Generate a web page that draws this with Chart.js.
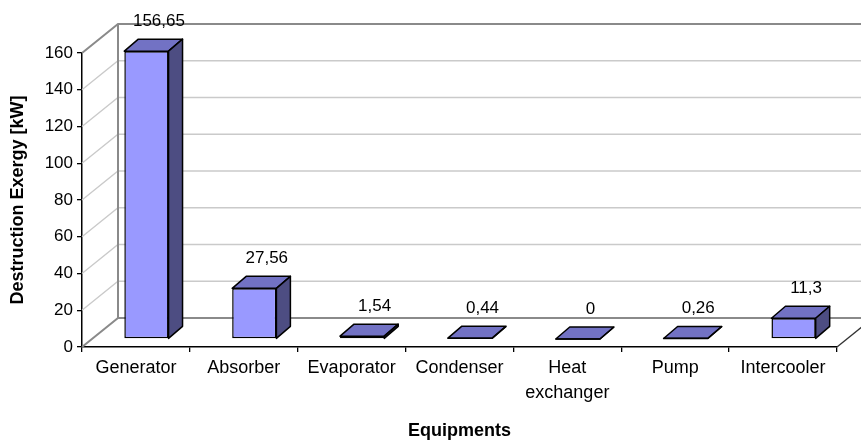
<!DOCTYPE html>
<html>
<head>
<meta charset="utf-8">
<script src="https://cdn.jsdelivr.net/npm/chart.js@4/dist/chart.umd.min.js"></script>
<style>
  html, body { margin: 0; padding: 0; background: #fff; }
  #wrap { width: 861px; height: 440px; position: relative; }
</style>
</head>
<body>
<div id="wrap"><canvas id="chart"></canvas></div>
<script>
// Equipment categories (multi-line label as array)
const categories = ['Generator', 'Absorber', 'Evaporator', 'Condenser', ['Heat', 'exchanger'], 'Pump', 'Intercooler'];
// Exergy destruction per component, kW
const destructionExergy = [156.65, 27.56, 1.54, 0.44, 0, 0.26, 11.3];
// Value axis ticks
const yTicks = [0, 20, 40, 60, 80, 100, 120, 140, 160];

// Oblique 3D projection parameters
const WALL = { dx: 36, dy: -29 };      // front plane -> back wall
const BAR_SHIFT = { dx: 10.5, dy: -8 }; // front plane -> bar front faces
const BAR_DEPTH = { dx: 14, dy: -12 };  // bar front face -> bar back face

const FRONT_COLOR = '#9999FF';
const TOP_COLOR = '#7272C4';
const SIDE_COLOR = '#4D4D82';

function fmt(v) { return String(v).replace('.', ','); }

function poly(ctx, pts, fill) {
  ctx.beginPath();
  ctx.moveTo(pts[0][0], pts[0][1]);
  for (let i = 1; i < pts.length; i++) ctx.lineTo(pts[i][0], pts[i][1]);
  ctx.closePath();
  ctx.fillStyle = fill;
  ctx.fill();
  ctx.stroke();
}

const box3d = {
  id: 'box3d',
  beforeDatasetsDraw(chart) {
    const { ctx, chartArea: a, scales: { y } } = chart;
    ctx.save();
    ctx.lineCap = 'butt';
    // Side wall diagonals and back wall gridlines
    y.ticks.forEach(t => {
      const py = y.getPixelForValue(t.value);
      const edge = t.value === y.min || t.value === y.max;
      ctx.strokeStyle = edge ? '#8a8a8a' : '#cacaca';
      ctx.lineWidth = edge ? 2 : 1.3;
      ctx.beginPath();
      ctx.moveTo(a.left, py);
      ctx.lineTo(a.left + WALL.dx, py + WALL.dy);
      ctx.lineTo(a.right + WALL.dx, py + WALL.dy);
      ctx.stroke();
    });
    // Back wall left edge
    ctx.strokeStyle = '#8a8a8a';
    ctx.lineWidth = 2;
    ctx.beginPath();
    ctx.moveTo(a.left + WALL.dx, y.getPixelForValue(y.max) + WALL.dy);
    ctx.lineTo(a.left + WALL.dx, y.getPixelForValue(y.min) + WALL.dy);
    ctx.stroke();
    // Floor right edge
    ctx.strokeStyle = '#333';
    ctx.lineWidth = 1.3;
    ctx.beginPath();
    ctx.moveTo(a.right, a.bottom);
    ctx.lineTo(a.right + WALL.dx, a.bottom + WALL.dy);
    ctx.stroke();
    ctx.restore();
    // Bar front faces are drawn by the bar controller, shifted into the mid-depth plane
    ctx.save();
    ctx.translate(BAR_SHIFT.dx, BAR_SHIFT.dy);
  },
  afterDatasetsDraw(chart) {
    const { ctx } = chart;
    ctx.restore();
    const meta = chart.getDatasetMeta(0);
    const values = chart.data.datasets[0].data;
    ctx.save();
    ctx.strokeStyle = '#000';
    ctx.lineWidth = 1.5;
    ctx.lineJoin = 'round';
    meta.data.forEach((bar, i) => {
      const { x, y, base, width } = bar.getProps(['x', 'y', 'base', 'width'], true);
      const x0 = x - width / 2 + BAR_SHIFT.dx;
      const x1 = x + width / 2 + BAR_SHIFT.dx;
      const yt = y + BAR_SHIFT.dy;
      const yb = base + BAR_SHIFT.dy;
      poly(ctx, [[x0, yt], [x1, yt], [x1 + BAR_DEPTH.dx, yt + BAR_DEPTH.dy], [x0 + BAR_DEPTH.dx, yt + BAR_DEPTH.dy]], TOP_COLOR);
      if (yb - yt > 0.5) {
        poly(ctx, [[x1, yt], [x1 + BAR_DEPTH.dx, yt + BAR_DEPTH.dy], [x1 + BAR_DEPTH.dx, yb + BAR_DEPTH.dy], [x1, yb]], SIDE_COLOR);
      } else {
        ctx.beginPath();
        ctx.moveTo(x0, yb);
        ctx.lineTo(x1, yb);
        ctx.lineTo(x1 + BAR_DEPTH.dx, yb + BAR_DEPTH.dy);
        ctx.stroke();
      }
      // Value label
      ctx.fillStyle = '#000';
      ctx.font = '17px "Liberation Sans", Arial, sans-serif';
      ctx.textAlign = 'center';
      ctx.textBaseline = 'middle';
      ctx.fillText(fmt(values[i]), x + 23, y - 38);
    });
    ctx.restore();
  }
};

new Chart(document.getElementById('chart'), {
  type: 'bar',
  data: {
    labels: categories,
    datasets: [{
      data: destructionExergy,
      backgroundColor: FRONT_COLOR,
      borderColor: '#000',
      borderWidth: 1.5,
      borderSkipped: false,
      categoryPercentage: 1,
      barPercentage: 0.41,
      clip: false
    }]
  },
  options: {
    responsive: true,
    maintainAspectRatio: false,
    devicePixelRatio: 1,
    animation: false,
    events: [],
    layout: { padding: { left: 0, right: 24, top: 53, bottom: 0 } },
    plugins: { legend: { display: false }, tooltip: { enabled: false } },
    scales: {
      x: {
        offset: true,
        afterFit(scale) { scale.height = 93; },
        grid: { offset: true, drawOnChartArea: false, drawTicks: true, tickLength: 5, color: '#000', lineWidth: 1.3 },
        border: { display: true, color: '#000', width: 1.5 },
        ticks: {
          color: '#000',
          padding: 3,
          autoSkip: false,
          maxRotation: 0,
          font: { family: '"Liberation Sans", Arial, sans-serif', size: 18, lineHeight: 1.4 }
        },
        title: {
          display: true,
          text: 'Equipments',
          color: '#000',
          padding: { top: 0, bottom: 0 },
          font: { family: '"Liberation Sans", Arial, sans-serif', size: 18, weight: 'bold', lineHeight: 1 }
        }
      },
      y: {
        min: 0,
        max: 160,
        afterBuildTicks(scale) { scale.ticks = yTicks.map(v => ({ value: v })); },
        afterFit(scale) { scale.width = 82; },
        grid: { drawOnChartArea: false, drawTicks: true, tickLength: 5, color: '#000', lineWidth: 1.3 },
        border: { display: true, color: '#000', width: 1.5 },
        ticks: {
          color: '#000',
          padding: 4,
          font: { family: '"Liberation Sans", Arial, sans-serif', size: 17 }
        },
        title: {
          display: true,
          text: 'Destruction Exergy [kW]',
          color: '#000',
          padding: { top: 7, bottom: 0 },
          font: { family: '"Liberation Sans", Arial, sans-serif', size: 18, weight: 'bold' }
        }
      }
    }
  },
  plugins: [box3d]
});
</script>
</body>
</html>
